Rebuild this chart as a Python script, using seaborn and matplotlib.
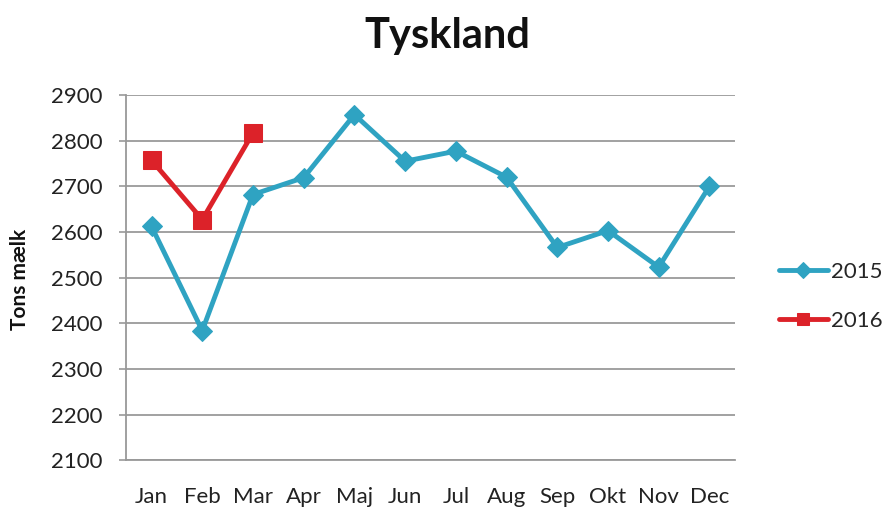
import pandas as pd
import matplotlib.pyplot as plt
import seaborn as sns

# Monthly milk volumes for Germany
months = ['Jan', 'Feb', 'Mar', 'Apr', 'Maj', 'Jun', 'Jul', 'Aug', 'Sep', 'Okt', 'Nov', 'Dec']
values_2015 = [2612, 2384, 2682, 2719, 2857, 2755, 2777, 2720, 2566, 2603, 2523, 2700]
values_2016 = [2757, 2627, 2817]
y_ticks = [2100, 2200, 2300, 2400, 2500, 2600, 2700, 2800, 2900]

df15 = pd.DataFrame({'pos': range(len(values_2015)), 'tons': values_2015})
df16 = pd.DataFrame({'pos': range(len(values_2016)), 'tons': values_2016})

sns.set_style("white")
plt.rcParams['font.family'] = ['Lato', 'DejaVu Sans']

fig = plt.figure(figsize=(8.95, 5.08), dpi=100)
ax = fig.add_axes([0.141, 0.094, 0.68, 0.719])

blue = '#2FA3C2'
red = '#DC2229'

sns.lineplot(data=df15, x='pos', y='tons', ax=ax, color=blue, linewidth=3.5,
             marker='D', markersize=10, markeredgecolor=blue, label='2015')
sns.lineplot(data=df16, x='pos', y='tons', ax=ax, color=red, linewidth=3.5,
             marker='s', markersize=13, markeredgecolor=red, label='2016')

# Axes styling like the original spreadsheet chart
ax.set_xlim(-0.5, len(months) - 0.5)
ax.set_ylim(2100, 2900)
ax.set_yticks(y_ticks)
ax.set_xticks(range(len(months)))
ax.set_xticklabels(months)
ax.set_xticks([i - 0.5 for i in range(len(months) + 1)], minor=True)
ax.tick_params(axis='x', which='major', length=0, pad=19, labelsize=16, colors='#222222')
ax.tick_params(axis='x', which='minor', length=6, width=1.2, color='#999999', direction='out')
ax.tick_params(axis='y', length=5, width=1.2, color='#999999', direction='out', labelsize=16,
               colors='#222222', left=True, pad=12)
ax.yaxis.grid(True, color='#9A9A9A', linewidth=1.3)
ax.set_axisbelow(True)
for side in ['top', 'right']:
    ax.spines[side].set_visible(False)
for side in ['left', 'bottom']:
    ax.spines[side].set_color('#999999')
    ax.spines[side].set_linewidth(1.3)

ax.set_xlabel('')
ax.set_ylabel('')
fig.text(0.022, 0.45, 'Tons mælk', fontsize=15, fontweight='bold', rotation=90,
         ha='center', va='center', color='#111111')
fig.text(0.5, 0.905, 'Tyskland', fontsize=30, fontweight='bold', ha='center', va='baseline',
         color='#111111')

leg = ax.legend(loc='center left', bbox_to_anchor=(0.848, 0.417), bbox_transform=fig.transFigure,
                frameon=False, fontsize=16, handlelength=2.2, handletextpad=0.15, labelspacing=1.3)
for handle in leg.legend_handles:
    handle.set_markersize(8)

plt.savefig('out.png', dpi=100)
